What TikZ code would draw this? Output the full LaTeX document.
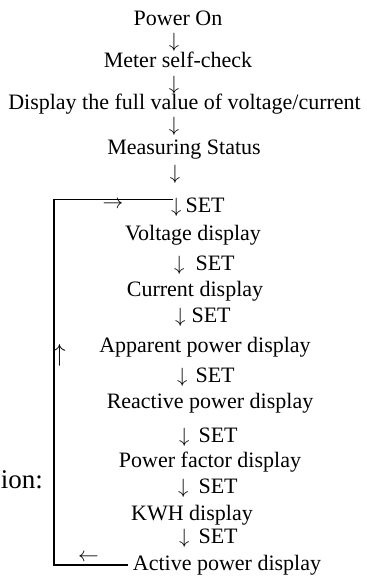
\documentclass[tikz,border=0pt]{standalone}
\usepackage{fontspec}
\setmainfont{Liberation Serif}
\begin{document}
\begin{tikzpicture}[x=1bp,y=-1bp,
  txt/.style={inner sep=0pt, anchor=base, font=\fontsize{22bp}{24bp}\selectfont},
  setlbl/.style={inner sep=0pt, anchor=base west, font=\fontsize{22bp}{24bp}\selectfont},
  arr/.style={inner sep=0pt, anchor=center, font=\fontsize{22bp}{24bp}\selectfont},
  big/.style={inner sep=0pt, font=\fontsize{27bp}{30bp}\selectfont},
  loopline/.style={line width=1.6bp}]
\useasboundingbox (0,0) rectangle (366,577);
\node[txt] (p1) at (178,26) {Power On};
\node[arr] (a1) at (174,42.5) {$\downarrow$};
\node[txt] (p2) at (178,68) {Meter self-check};
\node[arr] (a2) at (174,85) {$\downarrow$};
\node[txt] (p3) at (184.5,110) {Display the full value of voltage/current};
\node[arr] (a3) at (174,126.5) {$\downarrow$};
\node[txt] (p4) at (184,155) {Measuring Status};
\node[arr] (a4) at (175,174) {$\downarrow$};
\node[setlbl] (s1) at (171,212) {$\downarrow$\hspace{4bp}SET};
\node[txt] (d1) at (193,240) {Voltage display};
\node[setlbl] (s2) at (174,270) {$\downarrow$\hspace{11bp}SET};
\node[txt] (d2) at (195,296) {Current display};
\node[setlbl] (s3) at (175,322) {$\downarrow$\hspace{6bp}SET};
\node[txt] (d3) at (205,352) {Apparent power display};
\node[setlbl] (s4) at (177,382) {$\downarrow$\hspace{8bp}SET};
\node[txt] (d4) at (210,408) {Reactive power display};
\node[setlbl] (s5) at (179,442) {$\downarrow$\hspace{9bp}SET};
\node[txt] (d5) at (210,467) {Power factor display};
\node[setlbl] (s6) at (178,493) {$\downarrow$\hspace{10bp}SET};
\node[txt] (d6) at (192,520) {KWH display};
\node[setlbl] (s7) at (179,543) {$\downarrow$\hspace{9bp}SET};
\node[txt] (d7) at (227,570) {Active power display};
\node[arr] (ra) at (113,205) {$\rightarrow$};
\node[arr] (la) at (88.5,558) {$\leftarrow$};
\node[arr, font=\fontsize{33bp}{36bp}\selectfont] (ua) at (59.5,355) {$\uparrow$};
\node[big, anchor=base east] (op) at (43,488) {ion:};
\coordinate (tr) at (173,199.5);
\coordinate (tl) at (54,199.5);
\coordinate (bl) at (54,565);
\coordinate (br) at (128,565);
\draw[loopline] (tr) -- (tl) -- (bl) -- (br);
\end{tikzpicture}
\end{document}
